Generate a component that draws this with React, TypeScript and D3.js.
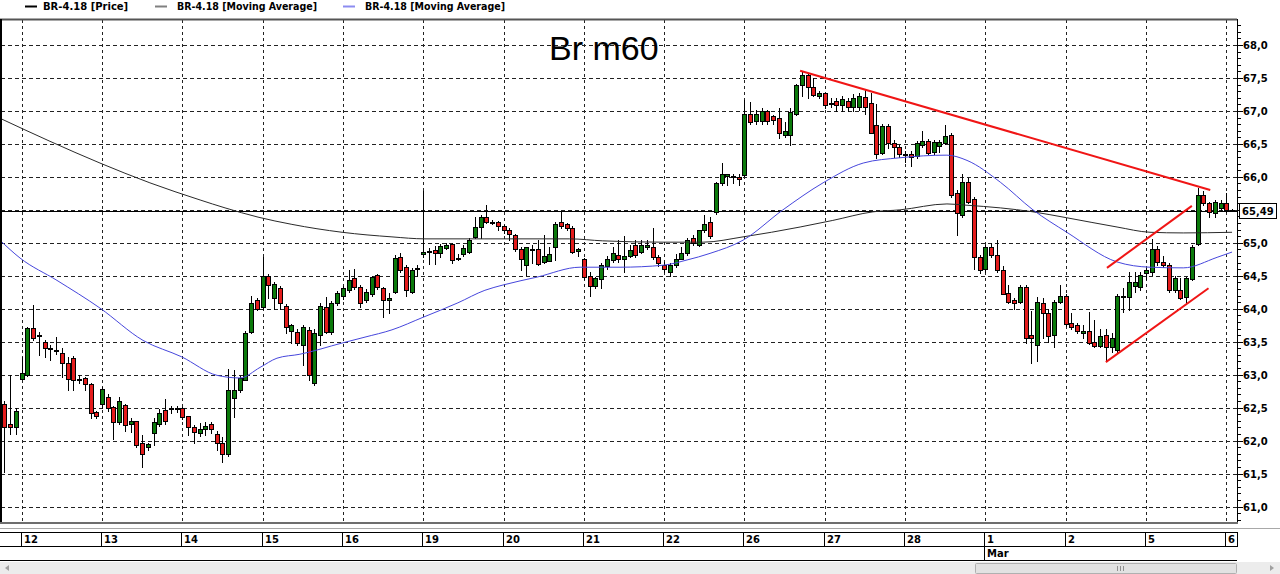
import React from 'react';
import * as d3 from 'd3';

type Bar = [number, number, number, number]; // open, high, low, close

const feb09: Bar[] = [
  [62.55, 62.6, 61.52, 62.2], [62.25, 63.0, 62.1, 62.2], [62.2, 62.5, 62.1, 62.45],
];
const feb12: Bar[] = [
  [62.93, 63.27, 62.93, 63.02], [63.0, 63.73, 62.98, 63.71], [63.71, 64.05, 63.52, 63.56], [63.6, 63.65, 63.3, 63.58],
  [63.5, 63.52, 63.27, 63.4], [63.4, 63.45, 63.22, 63.4], [63.38, 63.57, 63.31, 63.36], [63.33, 63.4, 62.96, 63.17],
  [63.17, 63.27, 62.76, 62.93], [63.25, 63.28, 62.76, 62.92], [62.93, 63.0, 62.88, 62.93], [62.95, 62.96, 62.76, 62.86],
  [62.86, 62.88, 62.34, 62.42], [62.44, 62.45, 62.35, 62.37],
];
const feb13: Bar[] = [
  [62.55, 62.81, 62.5, 62.78], [62.66, 62.7, 62.45, 62.5], [62.51, 62.52, 62.02, 62.28], [62.28, 62.66, 62.25, 62.6],
  [62.54, 62.56, 62.14, 62.23], [62.25, 62.35, 62.13, 62.3], [62.3, 62.3, 61.9, 61.93], [61.96, 62.08, 61.6, 61.8],
  [61.9, 61.97, 61.85, 61.95], [62.11, 62.34, 61.93, 62.28], [62.25, 62.48, 62.22, 62.42], [62.46, 62.63, 62.25, 62.3],
  [62.5, 62.53, 62.42, 62.5], [62.48, 62.52, 62.44, 62.5],
];
const feb14: Bar[] = [
  [62.5, 62.51, 62.33, 62.36], [62.38, 62.38, 62.08, 62.2], [62.2, 62.23, 61.96, 62.13], [62.12, 62.27, 62.07, 62.18],
  [62.17, 62.28, 62.08, 62.22], [62.25, 62.28, 62.12, 62.18], [62.1, 62.15, 61.86, 61.96], [61.97, 62.05, 61.67, 61.79],
  [61.79, 63.08, 61.77, 62.76], [62.65, 63.07, 62.36, 62.77], [62.77, 62.98, 62.73, 62.95], [62.92, 63.67, 62.92, 63.63],
  [63.64, 64.2, 63.63, 64.08], [64.13, 64.17, 63.98, 64.0],
];
const feb15: Bar[] = [
  [64.03, 64.79, 64.0, 64.5], [64.5, 64.52, 64.16, 64.36], [64.17, 64.4, 64.0, 64.38], [64.32, 64.35, 64.0, 64.08],
  [64.04, 64.07, 63.63, 63.72], [63.66, 63.77, 63.48, 63.75], [63.64, 63.7, 63.45, 63.48], [63.45, 63.75, 63.15, 63.72],
  [63.68, 63.72, 62.92, 63.0], [62.87, 63.7, 62.85, 63.63], [63.6, 64.08, 63.45, 64.04], [64.02, 64.18, 63.63, 63.65],
  [63.64, 64.12, 63.62, 64.08], [64.08, 64.27, 64.05, 64.24],
];
const feb16: Bar[] = [
  [64.2, 64.35, 64.15, 64.31], [64.28, 64.59, 64.25, 64.43], [64.46, 64.6, 64.3, 64.33], [64.33, 64.36, 64.02, 64.09],
  [64.13, 64.3, 64.1, 64.26], [64.23, 64.5, 64.2, 64.48], [64.51, 64.53, 64.3, 64.33], [64.31, 64.33, 63.88, 64.13],
  [64.14, 64.24, 63.93, 64.16], [64.26, 64.81, 64.24, 64.77], [64.79, 64.84, 64.56, 64.59], [64.63, 64.66, 64.2, 64.28],
  [64.26, 64.62, 64.24, 64.59], [64.6, 64.66, 64.5, 64.62],
];
const feb19: Bar[] = [
  [64.83, 65.78, 64.79, 64.86], [64.88, 64.92, 64.68, 64.87], [64.89, 64.95, 64.68, 64.85], [64.84, 64.98, 64.78, 64.95],
  [64.92, 65.0, 64.9, 64.97], [64.98, 65.0, 64.7, 64.74], [64.77, 64.83, 64.74, 64.77], [64.83, 64.96, 64.8, 64.92],
  [64.86, 65.07, 64.84, 65.04], [65.09, 65.39, 65.07, 65.24], [65.24, 65.42, 65.07, 65.39], [65.39, 65.57, 65.3, 65.32],
  [65.32, 65.34, 65.28, 65.31], [65.32, 65.33, 65.2, 65.25],
];
const feb20: Bar[] = [
  [65.25, 65.27, 65.15, 65.19], [65.2, 65.22, 65.05, 65.14], [65.12, 65.14, 64.88, 64.9], [64.9, 64.94, 64.59, 64.75],
  [64.66, 64.94, 64.51, 64.93], [64.9, 64.97, 64.7, 64.91], [64.91, 65.05, 64.66, 64.68], [64.71, 65.12, 64.69, 64.8],
  [64.73, 64.94, 64.72, 64.83], [64.94, 65.31, 64.74, 65.29], [65.32, 65.49, 65.23, 65.25], [65.28, 65.3, 65.2, 65.22],
  [65.23, 65.25, 64.84, 64.86], [64.88, 64.92, 64.8, 64.9],
];
const feb21: Bar[] = [
  [64.75, 64.77, 64.45, 64.48], [64.49, 64.56, 64.2, 64.34], [64.34, 64.48, 64.32, 64.46], [64.45, 64.69, 64.31, 64.66],
  [64.65, 64.8, 64.6, 64.76], [64.74, 64.94, 64.71, 64.85], [64.81, 65.04, 64.71, 64.75], [64.76, 65.1, 64.56, 64.8],
  [64.8, 64.96, 64.78, 64.89], [64.97, 65.04, 64.79, 64.81], [64.86, 65.04, 64.84, 64.97], [64.94, 65.05, 64.9, 64.97],
  [64.93, 65.22, 64.76, 64.78], [64.78, 64.81, 64.65, 64.69],
];
const feb22: Bar[] = [
  [64.66, 64.71, 64.56, 64.6], [64.55, 64.7, 64.49, 64.66], [64.66, 64.83, 64.63, 64.76], [64.76, 64.94, 64.75, 64.85],
  [64.84, 65.07, 64.82, 65.04], [65.07, 65.12, 64.96, 65.0], [64.97, 65.2, 64.95, 65.19], [65.19, 65.42, 65.17, 65.28],
  [65.32, 65.39, 65.07, 65.1], [65.46, 65.93, 65.44, 65.9], [65.9, 66.21, 65.88, 66.04], [66.02, 66.05, 65.88, 66.04],
  [66.0, 66.04, 65.9, 66.01], [66.0, 66.04, 65.88, 65.97],
];
const feb26: Bar[] = [
  [66.03, 67.17, 66.01, 66.96], [66.96, 67.14, 66.81, 66.84], [66.85, 67.02, 66.81, 66.95], [66.85, 67.05, 66.81, 67.0],
  [67.0, 67.02, 66.81, 66.85], [66.92, 66.94, 66.8, 66.87], [66.9, 67.04, 66.59, 66.67], [66.64, 66.84, 66.6, 66.69],
  [66.63, 67.04, 66.48, 66.99], [66.96, 67.41, 66.94, 67.39], [67.39, 67.61, 67.22, 67.54], [67.54, 67.58, 67.2, 67.37],
  [67.37, 67.5, 67.22, 67.24], [67.23, 67.3, 67.2, 67.28],
];
const feb27: Bar[] = [
  [67.27, 67.28, 67.04, 67.09], [67.12, 67.19, 67.06, 67.12], [67.15, 67.19, 67.0, 67.09], [67.09, 67.22, 67.0, 67.18],
  [67.15, 67.19, 67.0, 67.06], [67.06, 67.26, 67.0, 67.19], [67.06, 67.28, 67.02, 67.23], [67.21, 67.32, 66.96, 67.06],
  [67.12, 67.27, 66.66, 66.67], [66.79, 67.11, 66.28, 66.35], [66.36, 66.8, 66.34, 66.77], [66.77, 66.8, 66.44, 66.51],
  [66.51, 66.56, 66.3, 66.45], [66.46, 66.49, 66.3, 66.34],
];
const feb28: Bar[] = [
  [66.33, 66.4, 66.23, 66.34], [66.35, 66.4, 66.16, 66.3], [66.31, 66.54, 66.28, 66.51], [66.48, 66.7, 66.46, 66.55],
  [66.54, 66.57, 66.34, 66.37], [66.38, 66.56, 66.35, 66.53], [66.47, 66.56, 66.38, 66.53], [66.52, 66.79, 66.5, 66.62],
  [66.63, 66.66, 65.69, 65.72], [65.75, 65.8, 65.12, 65.45], [65.42, 66.05, 65.39, 65.93], [65.93, 65.98, 65.6, 65.62],
  [65.66, 65.7, 64.6, 64.78], [64.78, 64.81, 64.54, 64.59],
];
const mar01: Bar[] = [
  [64.6, 64.96, 64.56, 64.93], [64.93, 65.0, 64.78, 64.81], [64.81, 65.04, 64.56, 64.59], [64.59, 64.65, 64.22, 64.23],
  [64.24, 64.36, 64.08, 64.1], [64.13, 64.16, 64.0, 64.08], [64.1, 64.36, 64.08, 64.33], [64.33, 64.36, 63.48, 63.55],
  [63.6, 63.97, 63.17, 63.55], [63.45, 64.18, 63.21, 64.1], [64.08, 64.16, 63.55, 63.93], [63.93, 64.0, 63.5, 63.58],
  [63.6, 64.13, 63.42, 64.1], [64.1, 64.36, 64.08, 64.2],
];
const mar02: Bar[] = [
  [64.2, 64.23, 63.74, 63.77], [63.79, 63.94, 63.7, 63.73], [63.75, 63.79, 63.63, 63.67], [63.63, 63.75, 63.55, 63.67],
  [63.66, 63.95, 63.47, 63.48], [63.49, 63.83, 63.42, 63.44], [63.44, 63.7, 63.42, 63.58], [63.6, 63.7, 63.22, 63.42],
  [63.42, 63.63, 63.35, 63.55], [63.37, 64.23, 63.35, 64.2], [64.18, 64.31, 63.95, 64.2], [64.18, 64.55, 63.98, 64.41],
  [64.35, 64.55, 64.25, 64.41], [64.33, 64.55, 64.28, 64.51],
];
const mar05: Bar[] = [
  [64.54, 64.62, 64.45, 64.59], [64.56, 65.06, 64.51, 64.91], [64.91, 64.95, 64.66, 64.71], [64.71, 64.8, 64.63, 64.66],
  [64.66, 64.7, 64.26, 64.28], [64.28, 64.5, 64.26, 64.46], [64.28, 64.46, 64.15, 64.17], [64.18, 64.48, 64.08, 64.46],
  [64.45, 64.97, 64.43, 64.93], [64.98, 65.83, 64.97, 65.72], [65.72, 65.78, 65.57, 65.6], [65.6, 65.62, 65.39, 65.47],
  [65.45, 65.65, 65.39, 65.62], [65.53, 65.65, 65.5, 65.6],
];
const mar06: Bar[] = [
  [65.6, 65.76, 65.47, 65.5], [65.5, 65.51, 65.48, 65.49],
];

const dayLabels = ['12', '13', '14', '15', '16', '19', '20', '21', '22', '26', '27', '28', '1', '2', '5', '6'];
const monthLabels: [string, string][] = [['1', 'Mar']];

// [bar index, value]
const maSlow: [number, number][] = [
  [-0.8, 66.89], [7.93, 66.54], [16.65, 66.21], [25.35, 65.91], [34.1, 65.65], [38.45, 65.53], [44.2, 65.39],
  [50.1, 65.28], [58.85, 65.16], [67.55, 65.09], [73.3, 65.06], [83.75, 65.06], [98.55, 65.06], [104.3, 65.03],
  [114.8, 65.01], [121.8, 65.01], [128.75, 65.09], [138.7, 65.24], [144.4, 65.34], [151.4, 65.47], [156.1, 65.5],
  [164.3, 65.59], [167.8, 65.57], [173.6, 65.53], [179.3, 65.47], [185.2, 65.38], [193.95, 65.24], [199.7, 65.16],
  [205.5, 65.15], [214, 65.16],
];
const maFast: [number, number][] = [
  [-0.8, 65.04], [2.7, 64.77], [9.15, 64.43], [16.65, 64.01], [24.15, 63.52], [30.9, 63.27], [37.05, 62.99],
  [41.06, 62.95], [44.55, 63.11], [47.5, 63.25], [51.5, 63.31], [58.85, 63.48], [62.85, 63.57], [67.55, 63.68],
  [72.95, 63.87], [79.05, 64.09], [83.75, 64.28], [86.9, 64.36], [92.85, 64.48], [100.35, 64.63], [107.3, 64.63],
  [114.8, 64.66], [119.0, 64.74], [123.0, 64.84], [128.75, 65.04], [135.7, 65.5], [142.7, 65.91], [149.7, 66.21],
  [156.1, 66.29], [164.3, 66.33], [167.8, 66.25], [173.6, 65.92], [179.3, 65.5], [185.2, 65.16], [193.95, 64.71],
  [199.7, 64.63], [205.5, 64.62], [211.4, 64.78], [214, 64.86],
];

const lastPrice = 65.49;
// [index1, price1, index2, price2]
const trendLines: [number, number, number, number][] = [
  [138.7, 67.61, 210.2, 65.8],
  [192.2, 64.62, 207.0, 65.56],
  [192.0, 63.19, 209.9, 64.31],
];
const priceTicks = [61.0, 61.5, 62.0, 62.5, 63.0, 63.5, 64.0, 64.5, 65.0, 65.5, 66.0, 66.5, 67.0, 67.5, 68.0];

const W = 1280;
const H = 574;
const PL = 1;
const PR = 1237;
const PT = 20;
const PB = 523;
const FONT = '"DejaVu Sans", Verdana, sans-serif';
const GREEN = '#0b7a0b';
const RED = '#e41c1c';

export default function App() {
  const leading = feb09.length;
  const days = [feb12, feb13, feb14, feb15, feb16, feb19, feb20, feb21, feb22, feb26, feb27, feb28, mar01, mar02, mar05, mar06];
  const bars: Bar[] = [...feb09, ...days.flat()];
  const dayStart = days.map((_, k) => leading + 14 * k);

  const x = d3.scaleLinear().domain([3, 213]).range([21.7, 1226.3]);
  const y = d3.scaleLinear().domain([60.75, 68.38]).range([PB, PT]);

  const lineGen = d3
    .line<[number, number]>()
    .x((d) => x(d[0]))
    .y((d) => y(d[1]))
    .curve(d3.curveMonotoneX);

  const minor = d3.range(608, 684).map((v) => v / 10);
  const fmt = (v: number) => v.toFixed(1).replace('.', ',');
  const lastY = Math.round(y(lastPrice));
  const visibleLabels = priceTicks.filter((p) => Math.abs(y(p) - lastY) > 12);

  return (
    <svg width={W} height={H} style={{ position: 'absolute', left: 0, top: 0, display: 'block' }}
      fontFamily={FONT}>
      <defs>
        <clipPath id="plot">
          <rect x={PL + 1} y={PT} width={PR - PL - 1} height={PB - PT} />
        </clipPath>
      </defs>
      <rect x={0} y={0} width={W} height={H} fill="#fff" />

      {/* legend */}
      <g fontSize={10} fontWeight="bold">
        <line x1={25} x2={37} y1={6.5} y2={6.5} stroke="#000" strokeWidth={2} />
        <text x={43} y={10}>BR-4.18 [Price]</text>
        <line x1={155} x2={167} y1={6.5} y2={6.5} stroke="#808080" strokeWidth={2} />
        <text x={177} y={10} textLength={140} lengthAdjust="spacingAndGlyphs">BR-4.18 [Moving Average]</text>
        <line x1={343} x2={355} y1={6.5} y2={6.5} stroke="#8c8cf0" strokeWidth={2} />
        <text x={365} y={10} textLength={140} lengthAdjust="spacingAndGlyphs">BR-4.18 [Moving Average]</text>
      </g>

      {/* grid */}
      <g stroke="#222" strokeWidth={1}>
        {priceTicks.map((p) => (
          <line key={'h' + p} x1={PL} x2={PR} y1={Math.round(y(p)) + 0.5} y2={Math.round(y(p)) + 0.5}
            strokeDasharray="4,3" />
        ))}
        {dayStart.map((i) => (
          <line key={'v' + i} x1={Math.round(x(i)) + 0.5} x2={Math.round(x(i)) + 0.5} y1={PT} y2={PB}
            strokeDasharray="3,3" />
        ))}
      </g>

      {/* last price line */}
      <line x1={PL} x2={PR} y1={lastY + 0.5} y2={lastY + 0.5} stroke="#000" />

      <g clipPath="url(#plot)">
        {/* candles */}
        {bars.map((b, i) => {
          const [o, h, l, c] = b;
          const cx = Math.round(x(i));
          const top = Math.round(y(Math.max(o, c)));
          const bot = Math.round(y(Math.min(o, c)));
          const bh = Math.max(bot - top, 1);
          return (
            <g key={i}>
              <line x1={cx + 0.5} x2={cx + 0.5} y1={Math.round(y(h))} y2={Math.round(y(l)) + 1} stroke="#000" />
              <rect x={cx - 1.5} y={top + 0.5} width={4} height={bh} fill={c >= o ? GREEN : RED} stroke="#000" />
            </g>
          );
        })}
        {/* moving averages */}
        <path d={lineGen(maSlow) || ''} fill="none" stroke="#2a2a2a" strokeWidth={1} />
        <path d={lineGen(maFast) || ''} fill="none" stroke="#4646dc" strokeWidth={1} />
        {/* trend lines */}
        {trendLines.map((t, k) => (
          <line key={'t' + k} x1={x(t[0])} y1={y(t[1])} x2={x(t[2])} y2={y(t[3])} stroke="#f01515" strokeWidth={2} />
        ))}
      </g>

      {/* frame */}
      <line x1={0} x2={PR} y1={19.5} y2={19.5} stroke="#555" strokeWidth={2} />
      <line x1={1} x2={1} y1={19} y2={PB} stroke="#000" strokeWidth={2} />
      <line x1={PR + 0.5} x2={PR + 0.5} y1={19} y2={PB} stroke="#000" />
      <line x1={0} x2={PR + 1} y1={PB} y2={PB} stroke="#6e6e6e" strokeWidth={2} />

      {/* y axis */}
      <g stroke="#000">
        {minor.map((p) => (
          <line key={'m' + p} x1={PR + 1} x2={PR + 4} y1={Math.round(y(p)) + 0.5} y2={Math.round(y(p)) + 0.5} />
        ))}
        {priceTicks.map((p) => (
          <line key={'M' + p} x1={PR + 1} x2={PR + 6} y1={Math.round(y(p)) + 0.5} y2={Math.round(y(p)) + 0.5} />
        ))}
      </g>
      <g fontSize={10} fontWeight="bold">
        {visibleLabels.map((p) => (
          <text key={'l' + p} x={1243} y={Math.round(y(p)) + 4}>{fmt(p)}</text>
        ))}
      </g>
      <rect x={1239.5} y={lastY - 7.5} width={37} height={15} fill="#fff" stroke="#000" />
      <text x={1242} y={lastY + 4} fontSize={10} fontWeight="bold">
        {lastPrice.toFixed(2).replace('.', ',')}
      </text>

      {/* title */}
      <text x={549} y={60} fontSize={34} fontFamily='"Liberation Sans", Arial, sans-serif'>Br m60</text>

      {/* date axis */}
      <line x1={0} x2={W} y1={528.5} y2={528.5} stroke="#a8a8a8" />
      <line x1={0} x2={PR} y1={532.5} y2={532.5} stroke="#000" />
      <line x1={0} x2={PR} y1={546.5} y2={546.5} stroke="#000" />
      <line x1={0} x2={PR} y1={560.5} y2={560.5} stroke="#000" />
      <line x1={PR + 0.5} x2={PR + 0.5} y1={532} y2={547} stroke="#000" />
      <g fontSize={10} fontWeight="bold">
        {dayStart.map((i, k) => {
          const sx = Math.round(x(i)) - 1;
          return (
            <g key={'d' + k}>
              <line x1={sx + 0.5} x2={sx + 0.5} y1={532} y2={547} stroke="#000" />
              <text x={sx + 3} y={543}>{dayLabels[k]}</text>
            </g>
          );
        })}
        {monthLabels.map(([d, m]) => {
          const k = dayLabels.indexOf(d);
          const sx = Math.round(x(dayStart[k])) - 1;
          return (
            <g key={'mo' + m}>
              <line x1={sx + 0.5} x2={sx + 0.5} y1={547} y2={560} stroke="#000" />
              <text x={sx + 3} y={557}>{m}</text>
            </g>
          );
        })}
      </g>

      {/* scrollbar */}
      <rect x={0} y={562} width={W} height={12} fill="#ececec" />
      <path d="M9,565 L5,568 L9,571 Z" fill="#a0a0a0" />
      <rect x={975.5} y={563.5} width={261} height={10} fill="#e2e2e2" stroke="#b0b0b0" rx={1} />
      <g stroke="#909090">
        <line x1={1117.5} x2={1117.5} y1={566} y2={571} />
        <line x1={1120.5} x2={1120.5} y1={566} y2={571} />
        <line x1={1123.5} x2={1123.5} y1={566} y2={571} />
      </g>
      <path d="M1270,565 L1274,568 L1270,571 Z" fill="#a0a0a0" />
    </svg>
  );
}
